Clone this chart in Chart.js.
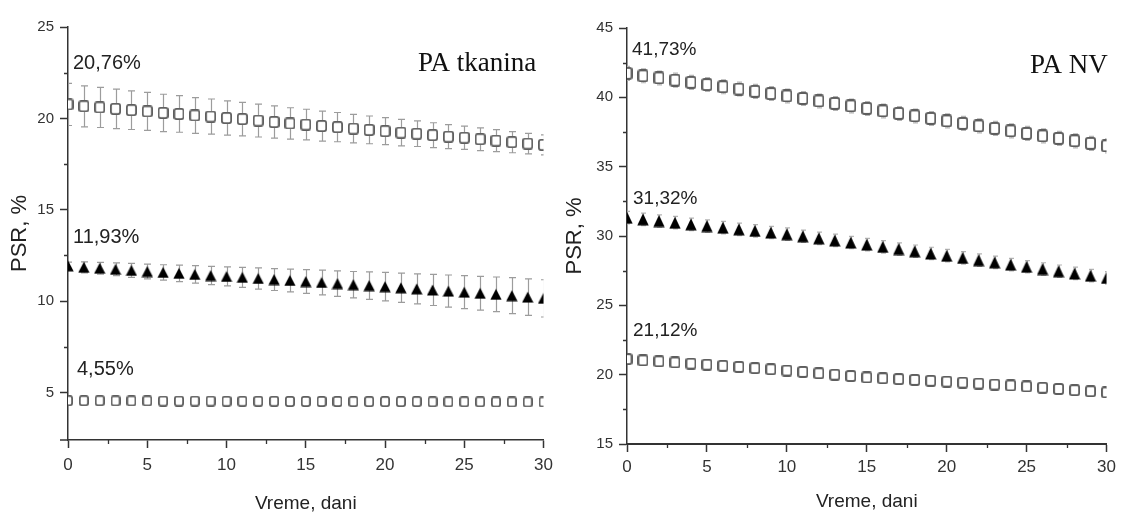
<!DOCTYPE html>
<html>
<head>
<meta charset="utf-8">
<title>PSR, % – PA tkanina / PA NV</title>
<script src="https://cdn.jsdelivr.net/npm/chart.js@4.4.1/dist/chart.umd.min.js"></script>
<style>
  html, body { margin: 0; padding: 0; background: #ffffff; }
  #wrap { position: relative; width: 1121px; height: 514px; overflow: hidden; background: #ffffff; }
  #leftChart { position: absolute; left: 0; top: 0; }
  #rightChart { position: absolute; left: 560px; top: 0; }
</style>
</head>
<body>
<div id="wrap">
  <canvas id="leftChart" width="560" height="514"></canvas>
  <canvas id="rightChart" width="561" height="514"></canvas>
</div>
<script>
// ---- data -------------------------------------------------------------
const days = [0, 1, 2, 3, 4, 5, 6, 7, 8, 9, 10, 11, 12, 13, 14, 15,
              16, 17, 18, 19, 20, 21, 22, 23, 24, 25, 26, 27, 28, 29, 30];
const xTicks = [0, 5, 10, 15, 20, 25, 30];

// PA tkanina
const tkaninaYTicks = [5, 10, 15, 20, 25];
const tkaninaHigh = [20.76, 20.66, 20.60, 20.52, 20.45, 20.38, 20.30, 20.24, 20.16, 20.10, 20.02,
                     19.96, 19.88, 19.80, 19.72, 19.66, 19.58, 19.52, 19.44, 19.37, 19.30,
                     19.22, 19.16, 19.08, 19.00, 18.94, 18.86, 18.78, 18.70, 18.62, 18.55];
const tkaninaHighErr = [1.15, 1.12, 1.10, 1.08, 1.06, 1.04, 1.02, 1.00, 0.98, 0.96, 0.94,
                        0.92, 0.90, 0.88, 0.86, 0.84, 0.82, 0.80, 0.78, 0.76, 0.74,
                        0.72, 0.70, 0.68, 0.66, 0.64, 0.62, 0.60, 0.58, 0.56, 0.55];
const tkaninaMid = [11.93, 11.85, 11.80, 11.74, 11.68, 11.62, 11.57, 11.52, 11.46, 11.40, 11.35,
                    11.30, 11.24, 11.18, 11.13, 11.07, 11.02, 10.96, 10.90, 10.85, 10.79,
                    10.73, 10.67, 10.61, 10.55, 10.49, 10.43, 10.37, 10.30, 10.22, 10.15];
const tkaninaMidErr = [0.20, 0.30, 0.32, 0.35, 0.38, 0.40, 0.42, 0.45, 0.48, 0.50, 0.52,
                       0.55, 0.58, 0.60, 0.62, 0.65, 0.68, 0.70, 0.72, 0.75, 0.78,
                       0.80, 0.82, 0.85, 0.88, 0.90, 0.92, 0.95, 0.98, 1.00, 1.02];
const tkaninaLow = [4.55, 4.55, 4.55, 4.54, 4.54, 4.54, 4.53, 4.53, 4.53, 4.53, 4.52,
                    4.52, 4.52, 4.52, 4.51, 4.51, 4.51, 4.51, 4.50, 4.50, 4.50,
                    4.50, 4.50, 4.49, 4.49, 4.49, 4.49, 4.48, 4.48, 4.48, 4.48];

// PA NV
const nvYTicks = [15, 20, 25, 30, 35, 40, 45];
const nvHigh = [41.73, 41.55, 41.40, 41.24, 41.08, 40.92, 40.76, 40.60, 40.43, 40.27, 40.10,
                39.92, 39.74, 39.56, 39.38, 39.20, 39.02, 38.84, 38.66, 38.48, 38.30,
                38.12, 37.94, 37.76, 37.58, 37.40, 37.22, 37.04, 36.86, 36.68, 36.50];
const nvHighErr = [0.50, 0.50, 0.50, 0.50, 0.50, 0.50, 0.50, 0.50, 0.50, 0.50, 0.50,
                   0.50, 0.50, 0.50, 0.50, 0.50, 0.50, 0.50, 0.50, 0.50, 0.50,
                   0.50, 0.50, 0.50, 0.50, 0.50, 0.50, 0.50, 0.50, 0.50, 0.50];
const nvMid = [31.32, 31.20, 31.08, 30.96, 30.84, 30.72, 30.60, 30.48, 30.37, 30.25, 30.13,
               29.98, 29.83, 29.68, 29.53, 29.38, 29.22, 29.06, 28.90, 28.74, 28.58,
               28.42, 28.26, 28.10, 27.94, 27.78, 27.62, 27.46, 27.30, 27.14, 26.98];
const nvMidErr = [0.45, 0.45, 0.45, 0.45, 0.45, 0.45, 0.45, 0.45, 0.45, 0.45, 0.45,
                  0.45, 0.45, 0.45, 0.45, 0.45, 0.45, 0.45, 0.45, 0.45, 0.45,
                  0.45, 0.45, 0.45, 0.45, 0.45, 0.45, 0.45, 0.45, 0.45, 0.45];
const nvLow = [21.12, 21.03, 20.96, 20.88, 20.80, 20.72, 20.64, 20.56, 20.47, 20.39, 20.30,
               20.20, 20.10, 20.00, 19.90, 19.80, 19.74, 19.68, 19.62, 19.56, 19.50,
               19.43, 19.36, 19.29, 19.22, 19.15, 19.06, 18.97, 18.88, 18.80, 18.72];
const nvLowErr = [0.30, 0.30, 0.30, 0.30, 0.30, 0.30, 0.30, 0.30, 0.30, 0.30, 0.30,
                  0.30, 0.30, 0.30, 0.30, 0.30, 0.30, 0.30, 0.30, 0.30, 0.30,
                  0.30, 0.30, 0.30, 0.30, 0.30, 0.30, 0.30, 0.30, 0.30, 0.30];

// ---- marker glyphs ----------------------------------------------------
// open square: white face so the error bar behind it stays hidden
function squareMarker(w, h, color, lw) {
  const c = document.createElement('canvas');
  c.width = w; c.height = h;
  const g = c.getContext('2d');
  g.strokeStyle = color; g.lineWidth = lw; g.fillStyle = '#ffffff';
  const r = 2, x = lw / 2, y = lw / 2, ww = w - lw, hh = h - lw;
  g.beginPath();
  g.moveTo(x + r, y); g.lineTo(x + ww - r, y); g.quadraticCurveTo(x + ww, y, x + ww, y + r);
  g.lineTo(x + ww, y + hh - r); g.quadraticCurveTo(x + ww, y + hh, x + ww - r, y + hh);
  g.lineTo(x + r, y + hh); g.quadraticCurveTo(x, y + hh, x, y + hh - r);
  g.lineTo(x, y + r); g.quadraticCurveTo(x, y, x + r, y);
  g.closePath(); g.fill(); g.stroke();
  return c;
}
function triangleMarker(w, h, color) {
  const c = document.createElement('canvas');
  c.width = w; c.height = h;
  const g = c.getContext('2d');
  g.fillStyle = color;
  g.beginPath(); g.moveTo(w / 2, 0.5); g.lineTo(w - 0.3, h - 0.5); g.lineTo(0.3, h - 0.5);
  g.closePath(); g.fill();
  return c;
}

// ---- plugins ----------------------------------------------------------
const series = (ys) => days.map((d, i) => ({ x: d, y: ys[i] }));

// vertical error bars with caps, drawn under each dataset's markers
const errorBars = {
  id: 'errorBars',
  beforeDatasetDraw(chart, args, opts) {
    const ds = chart.data.datasets[args.index];
    if (!ds.errors) return;
    const { ctx, chartArea: a, scales: { x, y } } = chart;
    ctx.save();
    ctx.beginPath(); ctx.rect(a.left, a.top, a.right - a.left, a.bottom - a.top); ctx.clip();
    ctx.strokeStyle = opts.color; ctx.lineWidth = opts.width;
    ds.data.forEach((p, i) => {
      const e = ds.errors[i];
      if (!e) return;
      const px = Math.round(x.getPixelForValue(p.x)) + 0.5;
      const t = y.getPixelForValue(p.y + e), b = y.getPixelForValue(p.y - e);
      ctx.beginPath();
      ctx.moveTo(px, t); ctx.lineTo(px, b);
      ctx.moveTo(px - opts.cap, t); ctx.lineTo(px + opts.cap, t);
      ctx.moveTo(px - opts.cap, b); ctx.lineTo(px + opts.cap, b);
      ctx.stroke();
    });
    ctx.restore();
  }
};

// short outward ticks half-way between the labelled ones
const minorTicks = {
  id: 'minorTicks',
  afterDraw(chart, args, opts) {
    const { ctx, chartArea: a, scales: { x, y } } = chart;
    const mids = (s) => s.ticks.slice(1).map((t, i) => (t.value + s.ticks[i].value) / 2);
    ctx.save();
    ctx.strokeStyle = opts.color; ctx.lineWidth = opts.width;
    ctx.beginPath();
    mids(x).forEach(v => {
      const px = Math.round(x.getPixelForValue(v)) + 0.5;
      ctx.moveTo(px, a.bottom); ctx.lineTo(px, a.bottom + opts.length);
    });
    mids(y).forEach(v => {
      const py = Math.round(y.getPixelForValue(v)) + 0.5;
      ctx.moveTo(a.left, py); ctx.lineTo(a.left - opts.length, py);
    });
    ctx.stroke();
    if (opts.corner) {
      ctx.lineWidth = 1.5;
      ctx.beginPath();
      ctx.moveTo(a.left - opts.corner, a.bottom); ctx.lineTo(a.left, a.bottom);
      ctx.stroke();
    }
    ctx.restore();
  }
};

// starting-value notes next to each series, plus the panel name
const valueNotes = {
  id: 'valueNotes',
  afterDatasetsDraw(chart, args, opts) {
    const { ctx, scales: { x, y } } = chart;
    ctx.save();
    ctx.textAlign = 'left'; ctx.textBaseline = 'middle';
    ctx.font = opts.font; ctx.fillStyle = opts.color;
    opts.items.forEach(it => {
      const p = chart.data.datasets[it.dataset].data[0];
      const txt = p.y.toFixed(2).replace('.', ',') + '%';
      ctx.fillText(txt, x.getPixelForValue(p.x) + it.dx, y.getPixelForValue(p.y) + it.dy);
    });
    ctx.font = opts.panelFont; ctx.fillStyle = opts.panelColor;
    ctx.fillText(opts.panelText, opts.panelX, opts.panelY);
    ctx.restore();
  }
};

Chart.defaults.font.family = '"Liberation Sans", Arial, sans-serif';
Chart.defaults.color = '#333';

function axisSet(cfg) {
  return {
    x: {
      type: 'linear', min: 0, max: 30,
      afterBuildTicks: s => { s.ticks = xTicks.map(v => ({ value: v })); },
      afterFit: s => { s.height = cfg.xHeight; },
      ticks: { font: { size: 17 }, color: '#333', padding: cfg.xTickPad, maxRotation: 0 },
      grid: { display: true, drawOnChartArea: false, drawTicks: true, tickLength: 8,
              tickColor: '#333', tickWidth: 1.5 },
      border: { display: true, color: '#333', width: cfg.border },
      title: { display: true, text: 'Vreme, dani', color: '#222',
               font: { size: 19, lineHeight: 1.1 }, padding: { top: 0, bottom: cfg.xTitlePad } }
    },
    y: {
      type: 'linear', min: cfg.yMin, max: cfg.yMax,
      afterBuildTicks: s => { s.ticks = cfg.yTicks.map(v => ({ value: v })); },
      afterFit: s => { s.width = cfg.yWidth; },
      ticks: { font: { size: 15 }, color: '#333', padding: 6 },
      grid: { display: true, drawOnChartArea: false, drawTicks: true, tickLength: 8,
              tickColor: '#333', tickWidth: 1.5 },
      border: { display: true, color: '#333', width: 1.5 },
      title: { display: true, text: 'PSR, %', color: '#222',
               font: { size: 22, lineHeight: 1.2 }, padding: { top: cfg.yTitlePad, bottom: 0 } }
    }
  };
}

function baseOptions(cfg) {
  return {
    type: 'scatter',
    data: { datasets: cfg.datasets },
    options: {
      responsive: false, animation: false, events: [],
      layout: { padding: cfg.padding },
      scales: axisSet(cfg),
      plugins: {
        legend: { display: false }, tooltip: { enabled: false },
        errorBars: { color: cfg.errColor, width: 1.2, cap: cfg.errCap },
        minorTicks: { color: '#333', width: 1.3, length: 4, corner: cfg.corner },
        valueNotes: cfg.notes
      }
    },
    plugins: [errorBars, minorTicks, valueNotes]
  };
}

const grey = '#5e5e5e';

// ---- PA tkanina -------------------------------------------------------
new Chart(document.getElementById('leftChart'), baseOptions({
  padding: { top: 27, right: 13, bottom: 0, left: 0 },
  yMin: 2.4, yMax: 25, yTicks: tkaninaYTicks,
  yWidth: 68, xHeight: 74, xTickPad: 7, xTitlePad: 0, yTitlePad: 7, border: 1.5,
  errColor: '#9c9c9c', errCap: 3.5, corner: 8,
  datasets: [
    { data: series(tkaninaHigh), errors: tkaninaHighErr, clip: 0,
      pointStyle: squareMarker(11, 12, grey, 1.8), pointRadius: 6 },
    { data: series(tkaninaMid), errors: tkaninaMidErr, clip: 0,
      pointStyle: triangleMarker(12, 12, '#000'), pointRadius: 6 },
    { data: series(tkaninaLow), clip: 0,
      pointStyle: squareMarker(10, 11, grey, 1.8), pointRadius: 6 }
  ],
  notes: {
    font: '20px "Liberation Sans", Arial, sans-serif', color: '#222',
    items: [ { dataset: 0, dx: 5, dy: -41 }, { dataset: 1, dx: 5, dy: -28 }, { dataset: 2, dx: 9, dy: -31 } ],
    panelText: 'PA tkanina', panelX: 418, panelY: 64,
    panelFont: '27px "Liberation Serif", "Times New Roman", serif', panelColor: '#111'
  }
}));

// ---- PA NV ------------------------------------------------------------
new Chart(document.getElementById('rightChart'), baseOptions({
  padding: { top: 28, right: 12, bottom: 0, left: 0 },
  yMin: 15, yMax: 45, yTicks: nvYTicks,
  yWidth: 67, xHeight: 70, xTickPad: 5, xTitlePad: 1.5, yTitlePad: 2, border: 2,
  errColor: '#b4b4b4', errCap: 2.5, corner: 0,
  datasets: [
    { data: series(nvHigh), errors: nvHighErr, clip: 0,
      pointStyle: squareMarker(11, 13, grey, 1.9), pointRadius: 6 },
    { data: series(nvMid), errors: nvMidErr, clip: 0,
      pointStyle: triangleMarker(12, 13, '#000'), pointRadius: 6 },
    { data: series(nvLow), errors: nvLowErr, clip: 0,
      pointStyle: squareMarker(11, 12, grey, 1.9), pointRadius: 6 }
  ],
  notes: {
    font: '19px "Liberation Sans", Arial, sans-serif', color: '#222',
    items: [ { dataset: 0, dx: 5, dy: -24 }, { dataset: 1, dx: 6, dy: -19 }, { dataset: 2, dx: 6, dy: -28 } ],
    panelText: 'PA NV', panelX: 470, panelY: 66,
    panelFont: '27px "Liberation Serif", "Times New Roman", serif', panelColor: '#111'
  }
}));
</script>
</body>
</html>
